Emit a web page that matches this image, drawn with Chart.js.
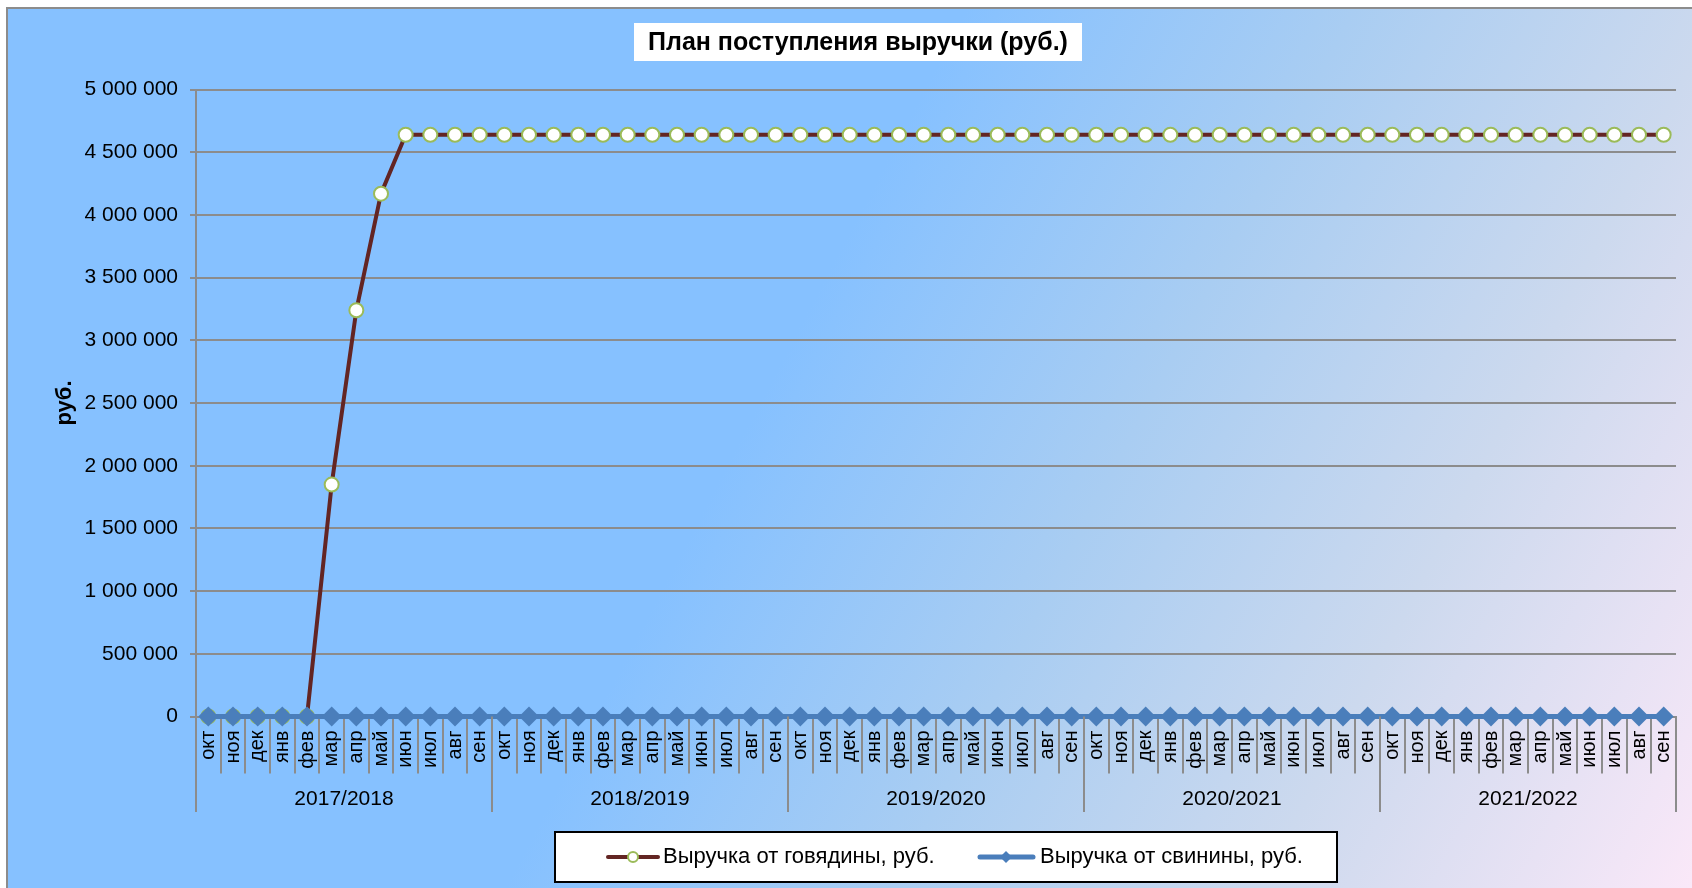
<!DOCTYPE html>
<html>
<head>
<meta charset="utf-8">
<script src="https://cdn.jsdelivr.net/npm/chart.js@4.4.1/dist/chart.umd.min.js"></script>
<style>
  html, body { margin: 0; padding: 0; background: #fff; }
  #wrap { position: absolute; left: 0; top: 0; width: 1692px; height: 888px; }
</style>
</head>
<body>
<div id="wrap"><canvas id="revenue" width="1692" height="888"></canvas></div>
<script>
// month tick labels and season groups
const months = ["окт", "ноя", "дек", "янв", "фев", "мар", "апр", "май", "июн", "июл", "авг", "сен"];
const seasons = ["2017/2018", "2018/2019", "2019/2020", "2020/2021", "2021/2022"];

// Выручка от говядины, руб. (by season)
const beef = [
    0, 0, 0, 0, 0, 1850000, 3240000, 4170000, 4640000, 4640000, 4640000, 4640000,
    4640000, 4640000, 4640000, 4640000, 4640000, 4640000, 4640000, 4640000, 4640000, 4640000, 4640000, 4640000,
    4640000, 4640000, 4640000, 4640000, 4640000, 4640000, 4640000, 4640000, 4640000, 4640000, 4640000, 4640000,
    4640000, 4640000, 4640000, 4640000, 4640000, 4640000, 4640000, 4640000, 4640000, 4640000, 4640000, 4640000,
    4640000, 4640000, 4640000, 4640000, 4640000, 4640000, 4640000, 4640000, 4640000, 4640000, 4640000, 4640000
];

// Выручка от свинины, руб.
const pork = [
    0, 0, 0, 0, 0, 0, 0, 0, 0, 0, 0, 0,
    0, 0, 0, 0, 0, 0, 0, 0, 0, 0, 0, 0,
    0, 0, 0, 0, 0, 0, 0, 0, 0, 0, 0, 0,
    0, 0, 0, 0, 0, 0, 0, 0, 0, 0, 0, 0,
    0, 0, 0, 0, 0, 0, 0, 0, 0, 0, 0, 0
];

const yTicks = { min: 0, max: 5000000, step: 500000 };

const FONT = 'Arial, "Liberation Sans", sans-serif';
const GRID = '#8c8c8c';
const BEEF_LINE = '#632523';
const BEEF_MARK = '#9bbb59';
const PORK = '#4a7ebb';

let labels = [];
seasons.forEach(() => months.forEach(m => labels.push(m)));

/**
 * background, frame, title box, season groups and legend
 */
const decor = {
    id: 'decor',
    beforeDraw(chart) {
        const ctx = chart.ctx;
        const w = chart.width, h = chart.height;
        ctx.save();
        ctx.fillStyle = '#fff';
        ctx.fillRect(0, 0, w, h);
        let g = ctx.createLinearGradient(0, 0, w, h);
        g.addColorStop(0, '#86c1ff');
        g.addColorStop(0.45, '#86c1ff');
        g.addColorStop(0.63, '#a9cdf2');
        g.addColorStop(0.8, '#ccd9ee');
        g.addColorStop(1, '#fae8f8');
        ctx.fillStyle = g;
        ctx.fillRect(7, 8, w - 7, h - 8);
        ctx.strokeStyle = GRID;
        ctx.lineWidth = 2;
        ctx.beginPath();
        ctx.moveTo(7, h);
        ctx.lineTo(7, 8);
        ctx.lineTo(w, 8);
        ctx.stroke();

        // title
        ctx.fillStyle = '#fff';
        ctx.fillRect(634, 23, 448, 38);
        ctx.fillStyle = '#000';
        ctx.font = 'bold 25px ' + FONT;
        ctx.textAlign = 'center';
        ctx.textBaseline = 'middle';
        ctx.fillText('План поступления выручки (руб.)', 858, 43);
        ctx.restore();
    },
    afterDraw(chart) {
        const ctx = chart.ctx;
        const x = chart.scales.x;
        const area = chart.chartArea;
        ctx.save();
        // season separators and labels
        ctx.strokeStyle = GRID;
        ctx.lineWidth = 2;
        ctx.fillStyle = '#000';
        ctx.font = '21px ' + FONT;
        ctx.textAlign = 'center';
        ctx.textBaseline = 'middle';
        const half = (x.getPixelForTick(1) - x.getPixelForTick(0)) / 2;
        seasons.forEach((s, k) => {
            const first = x.getPixelForTick(k * months.length);
            const last = x.getPixelForTick((k + 1) * months.length - 1);
            ctx.beginPath();
            ctx.moveTo(first - half, area.bottom);
            ctx.lineTo(first - half, 812);
            ctx.stroke();
            if (k === seasons.length - 1) {
                ctx.beginPath();
                ctx.moveTo(last + half, area.bottom);
                ctx.lineTo(last + half, 812);
                ctx.stroke();
            }
            ctx.fillText(s, (first + last) / 2, 799);
        });

        // legend
        ctx.fillStyle = '#fff';
        ctx.fillRect(555, 832, 782, 50);
        ctx.strokeStyle = '#000';
        ctx.lineWidth = 2;
        ctx.strokeRect(555, 832, 782, 50);
        const ly = 857;
        ctx.lineCap = 'round';
        ctx.strokeStyle = BEEF_LINE;
        ctx.lineWidth = 4;
        ctx.beginPath();
        ctx.moveTo(608, ly);
        ctx.lineTo(658, ly);
        ctx.stroke();
        ctx.fillStyle = '#fff';
        ctx.strokeStyle = BEEF_MARK;
        ctx.lineWidth = 2;
        ctx.beginPath();
        ctx.arc(633, ly, 5, 0, Math.PI * 2);
        ctx.fill();
        ctx.stroke();
        ctx.strokeStyle = PORK;
        ctx.lineWidth = 5;
        ctx.beginPath();
        ctx.moveTo(980, ly);
        ctx.lineTo(1033, ly);
        ctx.stroke();
        ctx.fillStyle = PORK;
        ctx.beginPath();
        ctx.moveTo(1006, ly - 6);
        ctx.lineTo(1012, ly);
        ctx.lineTo(1006, ly + 6);
        ctx.lineTo(1000, ly);
        ctx.closePath();
        ctx.fill();
        ctx.fillStyle = '#000';
        ctx.font = '22px ' + FONT;
        ctx.textAlign = 'left';
        ctx.fillText('Выручка от говядины, руб.', 663, ly);
        ctx.fillText('Выручка от свинины, руб.', 1040, ly);
        ctx.restore();
    }
};

new Chart(document.getElementById('revenue'), {
    type: 'line',
    data: {
        labels: labels,
        datasets: [
            {
                label: 'Выручка от говядины, руб.',
                data: beef,
                order: 1,
                clip: false,
                borderColor: BEEF_LINE,
                borderWidth: 4,
                tension: 0,
                pointStyle: 'circle',
                pointRadius: 7,
                pointBorderWidth: 2,
                pointBackgroundColor: '#fff',
                pointBorderColor: BEEF_MARK
            },
            {
                label: 'Выручка от свинины, руб.',
                data: pork,
                order: 0,
                clip: false,
                borderColor: PORK,
                borderWidth: 5,
                pointStyle: 'rectRot',
                pointRadius: 10,
                pointBorderWidth: 0,
                pointBackgroundColor: PORK,
                pointBorderColor: PORK
            }
        ]
    },
    options: {
        responsive: false,
        animation: false,
        devicePixelRatio: 1,
        layout: { padding: { left: 7, right: 16, top: 89.6, bottom: 0 } },
        plugins: {
            legend: { display: false },
            title: { display: false },
            tooltip: { enabled: false }
        },
        scales: {
            x: {
                offset: true,
                grid: {
                    offset: true,
                    drawOnChartArea: false,
                    drawTicks: true,
                    tickLength: 57,
                    color: GRID,
                    lineWidth: 2
                },
                border: { display: true, color: GRID, width: 2 },
                ticks: {
                    autoSkip: false,
                    minRotation: 90,
                    maxRotation: 90,
                    padding: -43,
                    color: '#000',
                    font: { family: FONT, size: 20 }
                },
                afterFit(scale) { scale.height = 171.5; }
            },
            y: {
                min: yTicks.min,
                max: yTicks.max,
                grid: { color: GRID, lineWidth: 2, tickLength: 6 },
                border: { display: true, color: GRID, width: 2 },
                ticks: {
                    stepSize: yTicks.step,
                    padding: 12,
                    color: '#000',
                    font: { family: FONT, size: 21 },
                    callback: v => String(v).replace(/\B(?=(\d{3})+(?!\d))/g, ' ')
                },
                title: {
                    display: true,
                    text: 'руб.',
                    color: '#000',
                    font: { family: FONT, size: 22, weight: 'bold' },
                    padding: { top: 45, bottom: 0 }
                },
                afterFit(scale) { scale.width = 189; }
            }
        }
    },
    plugins: [decor]
});
</script>
</body>
</html>
